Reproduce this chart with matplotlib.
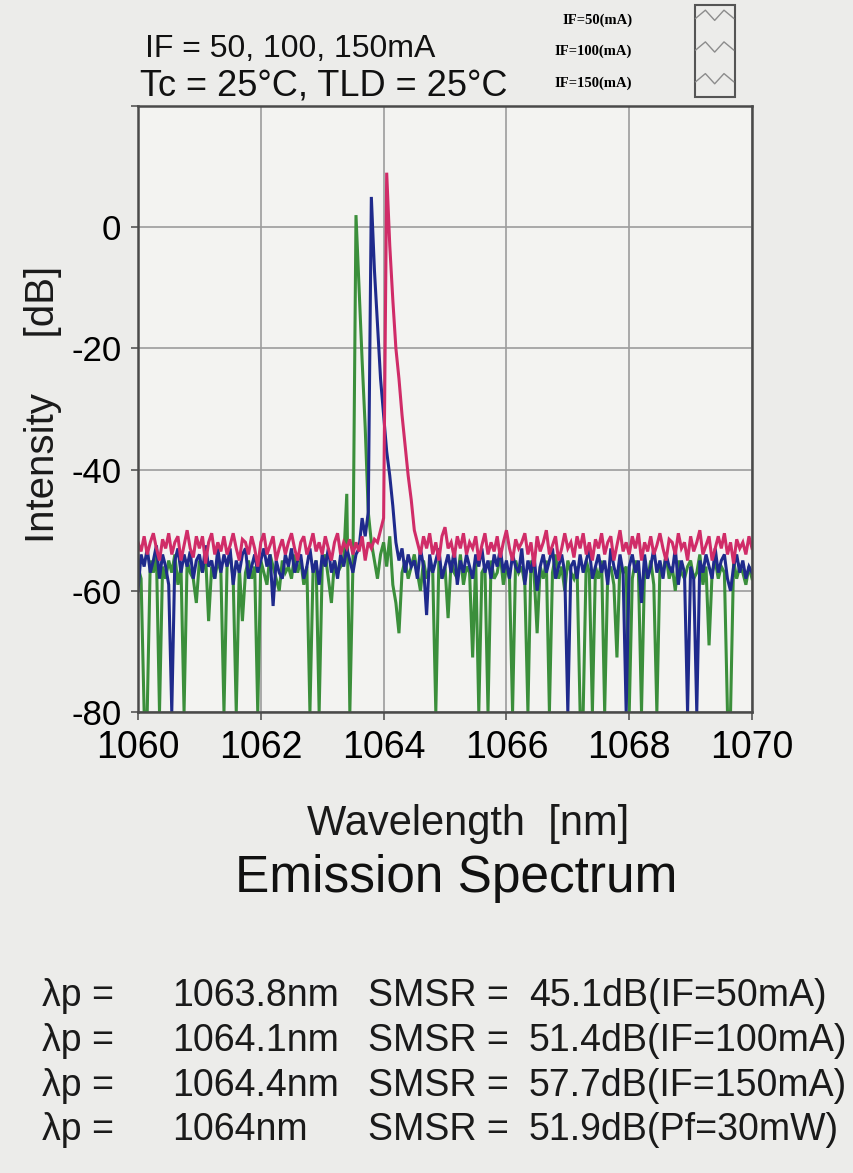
import numpy as np
import matplotlib.pyplot as plt
from matplotlib.lines import Line2D
from matplotlib.patches import Rectangle
from matplotlib.legend_handler import HandlerLine2D

# optical spectrum, sampled every 0.05 nm from 1060 to 1070 nm
start_nm, step_nm = 1060.0, 0.05

intensity_50 = [
    -56, -58, -80, -80, -55, -57, -54, -80, -56, -58,
    -55, -57, -54, -59, -56, -80, -55, -57, -58, -62,
    -55, -57, -54, -65, -56, -58, -55, -57, -80, -56,
    -54, -58, -80, -56, -65, -57, -55, -58, -56, -80,
    -55, -57, -59, -54, -56, -58, -60, -55, -57, -56,
    -58, -54, -57, -55, -59, -56, -80, -57, -55, -80,
    -56, -54, -58, -62, -55, -57, -56, -55, -44, -80,
    -56, 2, -10, -22, -33, -47, -52, -55, -58, -54,
    -52, -56, -51, -59, -62, -67, -57, -55, -58, -56,
    -54, -57, -60, -55, -58, -56, -57, -80, -55, -58,
    -56, -64.5, -55, -57, -58, -54, -59, -56, -57, -71,
    -55, -80, -57, -56, -80, -55, -58, -57, -54, -59,
    -56, -58, -80, -55, -57, -56, -59, -80, -55, -57,
    -67, -56, -58, -55, -80, -57, -54, -58, -56, -60,
    -55, -57, -58, -56, -80, -80, -55, -57, -80, -56,
    -58, -55, -80, -57, -56, -59, -71, -55, -57, -56,
    -80, -58, -55, -57, -80, -56, -58, -55, -59, -80,
    -56, -57, -54, -58, -56, -60, -55, -57, -58, -56,
    -55, -58, -57, -54, -59, -56, -69, -57, -55, -58,
    -56, -57, -80, -80, -55, -58, -56, -57, -59, -56,
    -58,
]

intensity_100 = [
    -60, -54, -56, -53, -57, -55, -52.5, -58, -54, -56,
    -59, -80, -55, -53, -57, -54, -56, -53.5, -58, -55,
    -54, -57, -52.5, -56, -55, -58, -53, -57, -54, -56,
    -53, -59, -55, -57, -54, -53, -58, -56, -54, -57,
    -55, -53, -56, -54, -62.5, -55, -57, -58, -54, -56,
    -53, -57, -55, -54, -58, -56, -53, -57, -55, -59,
    -54, -56, -53, -57, -55, -58, -54, -56, -53, -55,
    -57, -54, -53, -48, -51, -47, 5, -7, -16, -25,
    -31, -37, -41, -46, -52, -55, -53, -57, -54, -56,
    -55, -58, -53, -56, -64, -54, -57, -55, -53, -58,
    -56, -54, -57, -53, -59, -55, -57, -54, -56, -58,
    -54, -56, -53, -57, -55, -58, -54, -56, -53, -57,
    -55, -58, -54, -56, -57, -53, -59, -55, -57, -54,
    -60, -56, -54, -57, -55, -53, -58, -56, -54, -57,
    -80, -56, -55, -58, -54, -57, -55, -53, -58, -56,
    -54, -57, -55, -59, -53, -56, -58, -54, -57, -80,
    -56, -54, -57, -55, -62, -54, -58, -56, -53, -57,
    -55, -58, -54, -56, -57, -53, -59, -55, -57, -80,
    -56, -58, -80, -55, -57, -54, -56, -58, -53, -57,
    -55, -54, -58, -60, -56, -54, -57, -55, -58, -56,
    -57,
]

intensity_150 = [
    -52, -53.5, -51, -54, -52, -50.5, -53, -55, -51.5, -53,
    -50.5, -54, -52, -51, -55, -52.5, -50, -53, -54.5, -51,
    -53, -51, -55.5, -52, -50.5, -54, -52, -53.5, -51, -54,
    -52.5, -50.5, -53, -55, -51.5, -52, -54, -51, -53, -56,
    -52, -50.5, -54, -52.5, -51, -55, -53, -51.5, -54, -52,
    -50.5, -53, -55, -52, -51, -54, -52.5, -50.5, -53.5, -52,
    -54, -51, -53, -55, -52, -50.5, -54, -52, -53, -51.5,
    -54, -52, -53.5, -51, -55, -52, -53, -51.5, -52, -50,
    -48, 9, -3, -12, -20, -25, -31, -36, -41, -45,
    -50, -52, -54, -51, -53, -50.5, -54, -52, -55, -51,
    -49.5, -53, -52, -54.5, -51, -53, -50.5, -54, -52, -53,
    -51, -55, -52.5, -50.5, -54, -52, -53.5, -51, -54.5, -52,
    -50, -53, -55, -51.5, -53, -52, -50.5, -54, -52, -56,
    -51, -53.5, -52, -50, -54, -52.5, -51, -55, -53, -50.5,
    -53, -52, -54.5, -51, -53, -50.5, -54, -52, -55, -51.5,
    -53, -50.5, -54, -52, -51, -55, -52.5, -50, -53.5, -52,
    -54, -51, -53, -50.5, -55, -52, -53.5, -51, -54, -52.5,
    -50.5, -53, -55, -51.5, -52, -54, -50.5, -53, -52, -55,
    -51, -53.5, -52, -50, -54, -52.5, -51, -55, -53, -51,
    -53, -50.5, -54, -52, -55.5, -51.5, -53, -52, -54, -51,
    -53,
]

series_labels = ['IF=50(mA)', 'IF=100(mA)', 'IF=150(mA)']
series_colors = ['#3b8f3b', '#1f2a8c', '#d02c68']

peak_wl = ['1063.8nm', '1064.1nm', '1064.4nm', '1064nm']
smsr = ['45.1dB(IF=50mA)', '51.4dB(IF=100mA)', '57.7dB(IF=150mA)', '51.9dB(Pf=30mW)']

x_ticks = [1060, 1062, 1064, 1066, 1068, 1070]
y_ticks = [-80, -60, -40, -20, 0, 20]
y_ticklabels = ['-80', '-60', '-40', '-20', '0', '']

plt.rcParams['font.family'] = ['Liberation Sans', 'DejaVu Sans']
plt.rcParams['axes.unicode_minus'] = False


class ZigzagHandler(HandlerLine2D):
    # legend sample drawn as a small zigzag like the analyser printout
    def create_artists(self, legend, orig_handle, xdescent, ydescent,
                       width, height, fontsize, trans):
        xs = np.array([0.05, 0.28, 0.5, 0.72, 0.95]) * width - xdescent
        ys = np.array([0.5, 1.3, 0.3, 1.3, 0.5]) * height - ydescent
        line = Line2D(xs, ys, color=orig_handle.get_color(), lw=1.0)
        line.set_transform(trans)
        return [line]


fig = plt.figure(figsize=(8.54, 11.73), dpi=100, facecolor='#ececea')
ax = fig.add_axes([0.1616, 0.393, 0.719, 0.5166], facecolor='#f3f3f1')

for values, color in zip([intensity_50, intensity_100, intensity_150], series_colors):
    wl = start_nm + step_nm * np.arange(len(values))
    ax.plot(wl, values, color=color, lw=2.2, solid_joinstyle='miter')

ax.set_xlim(1060, 1070)
ax.set_ylim(-80, 20)
ax.set_xticks(x_ticks)
ax.set_yticks(y_ticks)
ax.set_yticklabels(y_ticklabels)
ax.grid(True, color='#9c9c9c', lw=1.2)
ax.set_axisbelow(True)
for sp in ax.spines.values():
    sp.set_color('#4a4a4a')
    sp.set_linewidth(1.8)
ax.tick_params(axis='x', labelsize=27, length=6, width=1.2, color='#555555', pad=7)
ax.tick_params(axis='y', labelsize=25, length=5, width=1.2, color='#555555', pad=7)

# axis titles
fig.text(0.05, 0.655, 'Intensity     [dB]', rotation=90, fontsize=29,
         ha='center', va='center', color='#1a1a1a')
fig.text(0.548, 1 - 835 / 1173, 'Wavelength  [nm]', fontsize=30,
         ha='center', va='baseline', color='#1a1a1a')
fig.text(0.534, 1 - 892 / 1173, 'Emission Spectrum', fontsize=37,
         ha='center', va='baseline', color='#111111')

# measurement conditions
fig.text(0.170, 1 - 57 / 1173, 'IF = 50, 100, 150mA', fontsize=23,
         ha='left', va='baseline', color='#111111')
fig.text(0.164, 1 - 95 / 1173, 'Tc = 25°C, TLD = 25°C', fontsize=26,
         ha='left', va='baseline', color='#111111')

# legend with zigzag samples
handles = [Line2D([], [], color='#8c8c8c') for _ in series_labels]
fig.legend(handles, series_labels, loc='upper right',
           bbox_to_anchor=(0.877, 1.0), markerfirst=False, frameon=False,
           handler_map={Line2D: ZigzagHandler()}, handlelength=2.9,
           handletextpad=4.2, labelspacing=1.25,
           prop={'family': 'Liberation Serif', 'weight': 'bold', 'size': 10.5})
fig.patches.append(Rectangle((0.814, 0.917), 0.047, 0.079, transform=fig.transFigure,
                             fill=False, edgecolor='#555555', lw=1.5))

# peak wavelength / SMSR summary
baselines = [1006, 1051, 1096, 1140]
for yb, wl_txt, sm_txt in zip(baselines, peak_wl, smsr):
    yy = 1 - yb / 1173
    fig.text(0.049, yy, 'λp =', fontsize=27, va='baseline', color='#1a1a1a')
    fig.text(0.201, yy, wl_txt, fontsize=27, va='baseline', color='#1a1a1a')
    fig.text(0.431, yy, 'SMSR =', fontsize=27, va='baseline', color='#1a1a1a')
    fig.text(0.619, yy, sm_txt, fontsize=27, va='baseline', color='#1a1a1a')

fig.savefig('out.png', dpi=100, facecolor=fig.get_facecolor())
